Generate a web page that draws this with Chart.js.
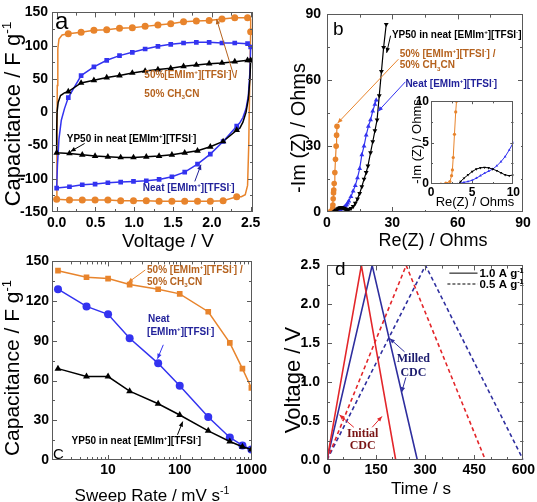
<!DOCTYPE html>
<html>
<head>
<meta charset="utf-8">
<script src="https://cdn.jsdelivr.net/npm/chart.js@4.4.1/dist/chart.umd.min.js"></script>
<style>
html, body { margin: 0; padding: 0; background: #fff; }
#wrap { position: relative; width: 537px; height: 502px; overflow: hidden; background: #fff; }
canvas { position: absolute; }
</style>
</head>
<body>
<div id="wrap">
  <canvas id="pa"></canvas>
  <canvas id="pb"></canvas>
  <canvas id="pc"></canvas>
  <canvas id="pd"></canvas>
  <canvas id="pin"></canvas>
</div>
<script>
const FONT = "'Liberation Sans', Arial, sans-serif";
const SERIF = "'Liberation Serif', 'Times New Roman', serif";
Chart.defaults.font.family = FONT;

// ---- panel a : cyclic voltammograms (V, F/g) ----
const aUpV   = [0.15,0.315,0.48,0.645,0.81,0.975,1.14,1.305,1.47,1.635,1.8,1.965,2.13,2.295,2.46];
const aDownV = [2.32,2.145,1.98,1.815,1.65,1.485,1.32,1.155,0.99,0.825,0.66,0.495,0.33,0.165,0.0];

const mixLeftV  = [0,0.003,0.008,0.015,0.03,0.07];
const mixLeftC  = [-131,-60,40,95,110,116];
const mixUpC    = [118,120,123,124,126,127,129,131,133,136,137,138,140,142,142];
const mixRightV = [2.49,2.5,2.5,2.49,2.475,2.46,2.43,2.38];
const mixRightC = [143,140,121,60,-50,-110,-124,-127];
const mixDownC  = [-127,-133,-134,-134,-134,-134,-134,-133,-133,-133,-132,-132,-132,-132,-131];

const neatLeftV  = [0,0.01,0.03,0.06,0.1];
const neatLeftC  = [-114,-80,-40,-12,5];
const neatUpC    = [22,55,68,78,85,90,95,99,102,104,105,105,104,104,103];
const neatRightV = [2.5,2.5,2.49,2.47,2.44,2.4,2.36];
const neatRightC = [100,98,60,25,5,-8,-16];
const neatDownC  = [-21,-44,-63,-78,-90,-97,-101,-103,-104,-105,-106,-108,-109,-112,-114];

const ypLeftV  = [0,0,0.005,0.02,0.05,0.1];
const ypLeftC  = [-61,-30,0,15,25,29];
const ypUpC    = [31,44,48,52,55,59,62,64,66,69,71,73,74,76,78];
const ypRightV = [2.5,2.5,2.49,2.47,2.44,2.4,2.36];
const ypRightC = [80,78,50,20,0,-15,-24];
const ypDownC  = [-27,-44,-52,-58,-61,-64,-66,-67,-68,-68,-67,-66,-64,-62,-61];

// ---- panel b : Nyquist (Ohms) ----
const bMixRe  = [1.2,1.8,2.3,2.5,2.6,2.7,2.85,3.0,3.1,3.3,3.6,3.9,4.2,4.4,4.6];
const bMixIm  = [0,0.1,0.3,1,1.7,3.2,6,8.7,10,13,18,24,30,35,39];
const bNeatRe = [3.2,3.6,4,4.5,5,5.5,6,6.5,7,7.5,8,8.5,9,9.5,10,11,12,13,14,15,16,17,18,19,20,21,22,22.6];
const bNeatIm = [0,0.1,0.2,0.3,0.45,0.7,1.0,1.3,1.55,1.8,2.2,2.7,3.3,4.1,5,7,9.5,12,15.5,19.8,26,30,35,39,42,46,49,51];
const bYpRe   = [3.3,3.6,4,4.5,5,5.5,6,6.5,7,7.5,8,8.5,9,9.5,10,11,12,13,14,15,16,17,18,18.8,20,21,22,23,24,25,26,27.2];
const bYpIm   = [0,0.3,0.7,1.1,1.5,1.8,1.95,2.0,1.95,1.8,1.6,1.35,1.1,1.0,1.1,1.6,2.5,4,6,8.5,11.5,15,18,21,27,32,37,42,53,64,75,85.5];

// ---- panel c : capacitance vs sweep rate ----
const cRates = [2,5,10,20,50,100,250,500,750,1000];
const cMix   = [143,138,137,132.5,129,125.5,112,88.5,69,54.5];
const cNeat  = [129,116,110,92,73,56,32.5,17,11,8];
const cYp    = [69,63,63,52,42.5,34,22,14,10,8];

// ---- panel d : galvanostatic cycles ----
const dRedFastT  = [0,105,210];  const dRedFastV  = [0,2.5,0];
const dBlueFastT = [0,138,276];  const dBlueFastV = [0,2.5,0];
const dRedSlowT  = [0,242,484];  const dRedSlowV  = [0,2.5,0];
const dBlueSlowT = [0,301,600];  const dBlueSlowV = [0,2.5,0];

const ORANGE = '#e8842c', BROWN = '#b5621e', BLUE = '#3333f0', NAVY = '#22229a';
const RED_D = '#e3262a', BLUE_D = '#2e2e9e';

function pts(xs, ys) { return xs.map((x, i) => ({x: x, y: ys[i]})); }

// splits "F g^{-1}" / "CH_{3}CN" into plain, sup and sub pieces
function pieces(str) {
  const out = [], re = /([\^_])\{([^}]*)\}/g;
  let last = 0, m;
  while ((m = re.exec(str))) {
    if (m.index > last) out.push({s: str.slice(last, m.index), k: ''});
    out.push({s: m[2], k: m[1]});
    last = re.lastIndex;
  }
  if (last < str.length) out.push({s: str.slice(last), k: ''});
  return out;
}

function richText(ctx, str, x, y, f, align) {
  const segs = pieces(str);
  const fam = f.family || FONT, wt = f.weight || 'normal';
  let w = 0;
  segs.forEach(p => {
    ctx.font = wt + ' ' + (p.k ? f.size * 0.62 : f.size) + 'px ' + fam;
    p.w = ctx.measureText(p.s).width;
    w += p.w;
  });
  let cx = align === 'center' ? x - w / 2 : align === 'right' ? x - w : x;
  ctx.textAlign = 'left';
  ctx.textBaseline = 'alphabetic';
  segs.forEach(p => {
    ctx.font = wt + ' ' + (p.k ? f.size * 0.62 : f.size) + 'px ' + fam;
    const dy = p.k === '^' ? -f.size * 0.4 : p.k === '_' ? f.size * 0.22 : 0;
    ctx.fillText(p.s, cx, y + dy);
    cx += p.w;
  });
}

// box around the plot with inward ticks on all four sides
const framePlugin = {
  id: 'frame',
  beforeDraw(chart, args, opts) {
    if (opts.fill) {
      chart.ctx.save();
      chart.ctx.fillStyle = '#fff';
      chart.ctx.fillRect(0, 0, chart.width, chart.height);
      chart.ctx.restore();
    }
  },
  afterDatasetsDraw(chart, args, opts) {
    const ctx = chart.ctx, a = chart.chartArea;
    ctx.save();
    ctx.strokeStyle = '#5a5a5a';
    ctx.lineWidth = 1;
    ctx.strokeRect(Math.round(a.left) + 0.5, Math.round(a.top) + 0.5,
                   Math.round(a.right - a.left) - 1, Math.round(a.bottom - a.top) - 1);
    const big = opts.big || 5, small = opts.small || 3;
    ['x', 'y'].forEach(k => {
      const s = chart.scales[k];
      const marks = [];
      if (s.type === 'logarithmic') {
        s.ticks.forEach(t => marks.push([s.getPixelForValue(t.value), t.label !== '' ? big : small]));
      } else {
        const vals = s.ticks.map(t => t.value);
        const sub = (opts.minor && opts.minor[k]) || 0;
        const step = vals.length > 1 ? vals[1] - vals[0] : 0;
        vals.forEach(v => {
          marks.push([s.getPixelForValue(v), big]);
          for (let j = 1; j <= sub; j++) {
            marks.push([s.getPixelForValue(v + step * j / (sub + 1)), small]);
            marks.push([s.getPixelForValue(v - step * j / (sub + 1)), small]);
          }
        });
      }
      marks.forEach(([p, len]) => {
        ctx.beginPath();
        if (k === 'x') {
          if (p < a.left + 1 || p > a.right - 1) return;
          const q = Math.round(p) + 0.5;
          ctx.moveTo(q, a.bottom); ctx.lineTo(q, a.bottom - len);
          ctx.moveTo(q, a.top); ctx.lineTo(q, a.top + len);
        } else {
          if (p < a.top + 1 || p > a.bottom - 1) return;
          const q = Math.round(p) + 0.5;
          ctx.moveTo(a.left, q); ctx.lineTo(a.left + len, q);
          ctx.moveTo(a.right, q); ctx.lineTo(a.right - len, q);
        }
        ctx.stroke();
      });
    });
    ctx.restore();
  }
};

// text labels, leader arrows and legend strokes
const notesPlugin = {
  id: 'notes',
  afterDraw(chart, args, opts) {
    const ctx = chart.ctx, sx = chart.scales.x, sy = chart.scales.y;
    const P = (it, x, y) => it.px ? [x, y] : [sx.getPixelForValue(x), sy.getPixelForValue(y)];
    (opts.items || []).forEach(it => {
      ctx.save();
      if (it.t === 'text') {
        const [x, y] = P(it, it.x, it.y);
        ctx.fillStyle = it.color || '#000';
        const f = {size: it.size || 10, weight: it.weight || 'bold', family: it.family};
        if (it.rot) {
          ctx.translate(x, y);
          ctx.rotate(it.rot);
          richText(ctx, it.s, 0, f.size * 0.36, f, 'center');
        } else {
          richText(ctx, it.s, x, y + f.size * 0.36, f, it.align || 'left');
        }
      } else {
        const [x1, y1] = P(it, it.x1, it.y1);
        const [x2, y2] = P(it, it.x2, it.y2);
        ctx.strokeStyle = it.color || '#000';
        ctx.fillStyle = it.color || '#000';
        ctx.lineWidth = it.w || 1;
        if (it.dash) ctx.setLineDash(it.dash);
        ctx.beginPath(); ctx.moveTo(x1, y1); ctx.lineTo(x2, y2); ctx.stroke();
        if (it.t === 'arrow') {
          const ang = Math.atan2(y2 - y1, x2 - x1), L = 5, W = 2.2;
          ctx.beginPath();
          ctx.moveTo(x2, y2);
          ctx.lineTo(x2 - L * Math.cos(ang) + W * Math.sin(ang), y2 - L * Math.sin(ang) - W * Math.cos(ang));
          ctx.lineTo(x2 - L * Math.cos(ang) - W * Math.sin(ang), y2 - L * Math.sin(ang) + W * Math.cos(ang));
          ctx.closePath(); ctx.fill();
        }
      }
      ctx.restore();
    });
  }
};

Chart.register(framePlugin, notesPlugin);

function axis(type, min, max, step, fmt, pad, fs, fit) {
  const o = {
    type: type, min: min, max: max,
    grid: {display: false, drawTicks: false},
    border: {display: false},
    ticks: {includeBounds: false, autoSkip: false, maxRotation: 0, padding: pad, color: '#000',
            font: {family: FONT, size: fs, weight: 'bold'}, callback: fmt},
    afterFit: fit
  };
  if (step) o.ticks.stepSize = step;
  return o;
}

function lineDs(xs, ys, color, w, dash) {
  return {data: pts(xs, ys), showLine: true, borderColor: color, borderWidth: w,
          borderDash: dash || [], pointRadius: 0, fill: false, tension: 0};
}
function markDs(xs, ys, color, style, r, rot, w) {
  return {data: pts(xs, ys), showLine: w > 0, borderColor: color, borderWidth: w || 0,
          backgroundColor: color, pointBackgroundColor: color, pointBorderColor: color, pointBorderWidth: 0,
          pointStyle: style, pointRadius: r, pointRotation: rot || 0, fill: false, tension: 0};
}

// box = canvas rect on the page, area = wanted plot rect on the page
function makePanel(id, box, area, xAx, yAx, datasets, frame, notes) {
  const cv = document.getElementById(id);
  cv.style.left = box.l + 'px'; cv.style.top = box.t + 'px';
  cv.width = box.w; cv.height = box.h;
  const yW = area.l - box.l, xH = box.t + box.h - area.b;
  xAx.afterFit = s => { s.height = xH; };
  yAx.afterFit = s => { s.width = yW; };
  return new Chart(cv, {
    type: 'scatter',
    data: {datasets: datasets},
    options: {
      responsive: false, animation: false, devicePixelRatio: 1,
      layout: {padding: {left: 0, top: area.t - box.t, right: box.l + box.w - area.r, bottom: 0}},
      scales: {x: xAx, y: yAx},
      plugins: {legend: {display: false}, tooltip: {enabled: false}, frame: frame, notes: {items: notes}}
    }
  });
}

const fix1 = v => v.toFixed(1);
const int0 = v => String(Math.round(v));

// ---------------- panel a ----------------
const mixLine  = lineDs([...mixLeftV, ...aUpV, ...mixRightV, ...aDownV], [...mixLeftC, ...mixUpC, ...mixRightC, ...mixDownC], ORANGE, 1.5);
const mixMarks = markDs([...aUpV, mixRightV[2], ...aDownV], [...mixUpC, mixRightC[2], ...mixDownC], ORANGE, 'circle', 3.5);
const neatLine  = lineDs([...neatLeftV, ...aUpV, ...neatRightV, ...aDownV], [...neatLeftC, ...neatUpC, ...neatRightC, ...neatDownC], BLUE, 1.5);
const neatMarks = markDs([...aUpV, neatRightV[1], ...aDownV], [...neatUpC, neatRightC[1], ...neatDownC], BLUE, 'rect', 3.3);
const ypLine  = lineDs([...ypLeftV, ...aUpV, ...ypRightV, ...aDownV], [...ypLeftC, ...ypUpC, ...ypRightC, ...ypDownC], '#000', 1.5);
const ypMarks = markDs([...aUpV, ypRightV[1], ...aDownV], [...ypUpC, ypRightC[1], ...ypDownC], '#000', 'triangle', 3.8);

makePanel('pa', {l: 0, t: 0, w: 268, h: 252}, {l: 52, t: 12, r: 253, b: 212},
  axis('linear', -0.06, 2.53, 0.5, fix1, 3, 14),
  axis('linear', -150, 150, 50, int0, 4, 14),
  [ypMarks, neatMarks, mixMarks, ypLine, neatLine, mixLine],
  {minor: {x: 1, y: 1}},
  [
    {t: 'text', px: true, x: 55, y: 20, s: 'a', size: 24, weight: 'normal'},
    {t: 'text', px: true, x: 12, y: 114, s: 'Capacitance / F g^{-1}', size: 22, weight: 'normal', rot: -Math.PI / 2},
    {t: 'text', px: true, x: 168, y: 240, s: 'Voltage / V', size: 19, weight: 'normal', align: 'center'},
    {t: 'text', x: 1.13, y: 57, s: '50%[EMIm^{+}][TFSI^{-}] /', color: BROWN},
    {t: 'text', x: 1.13, y: 28, s: '50% CH_{3}CN', color: BROWN},
    {t: 'arrow', x1: 2.29, y1: 52, x2: 2.06, y2: 140, color: BROWN},
    {t: 'text', x: 0.13, y: -40, s: 'YP50 in neat [EMIm^{+}][TFSI^{-}]'},
    {t: 'arrow', x1: 0.36, y1: -47, x2: 0.18, y2: -59},
    {t: 'text', x: 1.11, y: -113, s: 'Neat [EMIm^{+}][TFSI^{-}]', color: NAVY},
    {t: 'arrow', x1: 1.78, y1: -104, x2: 1.86, y2: -79, color: NAVY}
  ]);

// ---------------- panel b ----------------
makePanel('pb', {l: 270, t: 0, w: 267, h: 252}, {l: 327, t: 12, r: 523, b: 212},
  axis('linear', 0, 90, 30, int0, 3, 14),
  axis('linear', 0, 90, 30, int0, 6, 14),
  [markDs(bYpRe, bYpIm, '#000', 'triangle', 2.8, 180, 1.2),
   markDs(bNeatRe, bNeatIm, BLUE, 'triangle', 2.8, 0, 1.2),
   markDs(bMixRe, bMixIm, ORANGE, 'circle', 2.8, 0, 1.2)],
  {minor: {x: 1, y: 1}},
  [
    {t: 'text', px: true, x: 63, y: 28, s: 'b', size: 19, weight: 'normal'},
    {t: 'text', px: true, x: 27.5, y: 128, s: '-Im (Z) / Ohms', size: 20, weight: 'normal', rot: -Math.PI / 2},
    {t: 'text', px: true, x: 163, y: 240, s: 'Re(Z) / Ohms', size: 18, weight: 'normal', align: 'center'},
    {t: 'text', x: 29.8, y: 81, s: 'YP50 in neat [EMIm^{+}][TFSI^{-}]'},
    {t: 'arrow', x1: 29.2, y1: 80.3, x2: 27.4, y2: 72.5},
    {t: 'text', x: 33.4, y: 72.3, s: '50% [EMIm^{+}][TFSI^{-}] /', color: BROWN},
    {t: 'text', x: 33.4, y: 67, s: '50% CH_{3}CN', color: BROWN},
    {t: 'arrow', x1: 32.8, y1: 69.6, x2: 4.9, y2: 40.5, color: ORANGE},
    {t: 'text', x: 36, y: 58.8, s: 'Neat [EMIm^{+}][TFSI^{-}]', color: NAVY},
    {t: 'arrow', x1: 36, y1: 59.3, x2: 23.4, y2: 45.8, color: BLUE}
  ]);

// inset of panel b
makePanel('pin', {l: 402, t: 92, w: 119, h: 118}, {l: 431, t: 99, r: 517, b: 184},
  axis('linear', 0, 10, 5, int0, 1, 12),
  axis('linear', 0, 10, 5, int0, 2, 12),
  [markDs(bYpRe, bYpIm, '#000', 'triangle', 1.6, 180, 1),
   markDs(bNeatRe, bNeatIm, BLUE, 'triangle', 1.6, 0, 1),
   markDs(bMixRe, bMixIm, ORANGE, 'circle', 1.6, 0, 1)],
  {minor: {x: 1, y: 1}, fill: true, big: 3, small: 2},
  [
    {t: 'text', px: true, x: 14, y: 49.5, s: '-Im (Z) / Ohms', size: 13, weight: 'normal', rot: -Math.PI / 2},
    {t: 'text', px: true, x: 73, y: 109.5, s: 'Re(Z) / Ohms', size: 13, weight: 'normal', align: 'center'}
  ]);

// ---------------- panel c ----------------
makePanel('pc', {l: 0, t: 250, w: 268, h: 256}, {l: 52, t: 260, r: 252, b: 460},
  axis('logarithmic', 1.65, 1020, null, v => ([10, 100, 1000].includes(v) ? String(v) : ''), 2, 14),
  axis('linear', 0, 150, 30, int0, 3, 14),
  [markDs(cRates, cYp, '#000', 'triangle', 4, 0, 1.5),
   markDs(cRates, cNeat, BLUE, 'circle', 4, 0, 1.5),
   markDs(cRates, cMix, ORANGE, 'rect', 4, 0, 1.5)],
  {minor: {y: 1}, small: 3},
  [
    {t: 'text', px: true, x: 53, y: 204, s: 'C', size: 15, weight: 'normal'},
    {t: 'text', px: true, x: 11.5, y: 118, s: 'Capacitance / F g^{-1}', size: 21, weight: 'normal', rot: -Math.PI / 2},
    {t: 'text', px: true, x: 152, y: 245, s: 'Sweep Rate / mV s^{-1}', size: 17, weight: 'normal', align: 'center'},
    {t: 'text', x: 35, y: 144, s: '50% [EMIm^{+}][TFSI^{-}] /', color: BROWN},
    {t: 'text', x: 35, y: 135, s: '50% CH_{3}CN', color: BROWN},
    {t: 'arrow', x1: 33, y1: 143.5, x2: 19, y2: 134, color: ORANGE},
    {t: 'text', x: 36, y: 107, s: 'Neat', color: NAVY},
    {t: 'text', x: 35, y: 97, s: '[EMIm^{+}][TFSI^{-}]', color: NAVY},
    {t: 'arrow', x1: 59, y1: 87, x2: 49, y2: 76.5, color: BLUE},
    {t: 'text', x: 3.1, y: 15, s: 'YP50 in neat [EMIm^{+}][TFSI^{-}]'},
    {t: 'arrow', x1: 93, y1: 19, x2: 110, y2: 29}
  ]);

// ---------------- panel d ----------------
makePanel('pd', {l: 270, t: 250, w: 267, h: 249}, {l: 327, t: 260, r: 524, b: 460},
  axis('linear', 0, 600, 150, int0, 2, 14),
  axis('linear', 0, 2.5, 0.5, fix1, 7, 14),
  [lineDs(dRedFastT, dRedFastV, RED_D, 1.6),
   lineDs(dBlueFastT, dBlueFastV, BLUE_D, 1.6),
   lineDs(dRedSlowT, dRedSlowV, RED_D, 1.6, [4, 3]),
   lineDs(dBlueSlowT, dBlueSlowV, BLUE_D, 1.6, [4, 3])],
  {minor: {x: 2, y: 1}},
  [
    {t: 'text', px: true, x: 65, y: 18, s: 'd', size: 19, weight: 'normal'},
    {t: 'text', px: true, x: 22, y: 130, s: 'Voltage / V', size: 22, weight: 'normal', rot: -Math.PI / 2},
    {t: 'text', px: true, x: 151, y: 238, s: 'Time / s', size: 17, weight: 'normal', align: 'center'},
    {t: 'seg', x1: 374, y1: 2.4, x2: 460, y2: 2.4, color: '#555', w: 1.5},
    {t: 'text', x: 466, y: 2.4, s: '1.0 A g^{-1}', size: 11.5},
    {t: 'seg', x1: 368, y1: 2.26, x2: 460, y2: 2.26, color: '#555', w: 1.5, dash: [3, 2]},
    {t: 'text', x: 466, y: 2.26, s: '0.5 A g^{-1}', size: 11.5},
    {t: 'text', x: 264, y: 1.31, s: 'Milled', size: 12, family: SERIF, color: '#1c1c6e', align: 'center'},
    {t: 'text', x: 264, y: 1.14, s: 'CDC', size: 12, family: SERIF, color: '#1c1c6e', align: 'center'},
    {t: 'arrow', x1: 237, y1: 1.39, x2: 192, y2: 1.56, color: BLUE_D},
    {t: 'arrow', x1: 241, y1: 1.06, x2: 228, y2: 0.87, color: BLUE_D},
    {t: 'text', x: 109, y: 0.345, s: 'Initial', size: 12, family: SERIF, color: '#7a1414', align: 'center'},
    {t: 'text', x: 109, y: 0.2, s: 'CDC', size: 12, family: SERIF, color: '#7a1414', align: 'center'},
    {t: 'arrow', x1: 82, y1: 0.42, x2: 38, y2: 0.58, color: RED_D},
    {t: 'arrow', x1: 138, y1: 0.42, x2: 168, y2: 0.56, color: RED_D}
  ]);
</script>
</body>
</html>
